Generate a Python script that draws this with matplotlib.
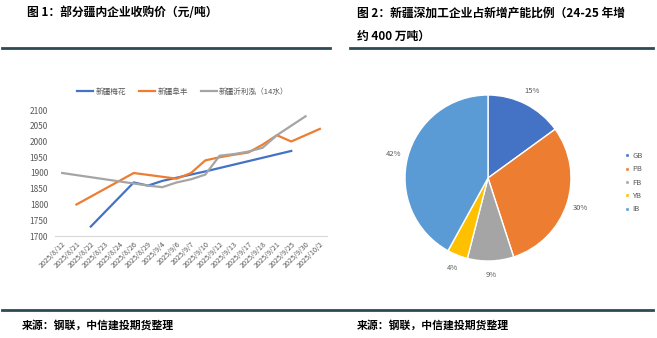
import matplotlib
matplotlib.use('Agg')
from matplotlib import pyplot as plt
import numpy as np

plt.rcParams['font.family'] = ['Noto Sans CJK SC', 'DejaVu Sans']

# chart 1: purchase prices (yuan/ton)
dates = ['2025/8/12', '2025/8/21', '2025/8/22', '2025/8/23', '2025/8/24',
         '2025/8/26', '2025/8/29', '2025/9/4', '2025/9/6', '2025/9/7',
         '2025/9/10', '2025/9/12', '2025/9/13', '2025/9/17', '2025/9/18',
         '2025/9/21', '2025/9/25', '2025/9/30', '2025/10/2']
nan = np.nan
meihua = [nan, nan, 1730, nan, nan, 1870, 1860, 1875, 1885, 1895,
          1905, nan, nan, nan, nan, nan, 1970, nan, nan]
fufeng = [nan, 1800, nan, nan, nan, 1900, nan, nan, 1882, 1900,
          1940, 1950, 1958, 1965, 1990, 2020, 2000, 2020, 2040]
yilihong = [1900, nan, nan, nan, nan, nan, 1860, 1855, 1870, 1880,
            1895, 1955, 1960, 1968, 1980, 2020, nan, 2080, nan]
series_names = ['新疆梅花', '新疆阜丰', '新疆沂利泓（14水）']
yticks = [1700, 1750, 1800, 1850, 1900, 1950, 2000, 2050, 2100]

# chart 2: share of new capacity
pie_labels = ['GB', 'PB', 'FB', 'YB', 'IB']
pie_values = [15, 30, 9, 4, 42]

line_colors = ['#4472C4', '#ED7D31', '#A5A5A5']
pie_colors = ['#4472C4', '#ED7D31', '#A5A5A5', '#FFC000', '#5B9BD5']
rule_color = '#2E4A55'
txt_gray = '#595959'

fig = plt.figure(figsize=(6.57, 3.38), dpi=100)

# titles and rules
fig.text(27/657, 1-13/338, '图 1：部分疆内企业收购价（元/吨）', fontsize=8.5,
         fontweight='bold', va='center', ha='left')
fig.text(357/657, 1-13/338, '图 2：新疆深加工企业占新增产能比例（24-25 年增',
         fontsize=8.5, fontweight='bold', va='center', ha='left')
fig.text(357/657, 1-36/338, '约 400 万吨）', fontsize=8.5,
         fontweight='bold', va='center', ha='left')
fig.add_artist(plt.Line2D([2/657, 330/657], [1-48/338]*2, color=rule_color, lw=2))
fig.add_artist(plt.Line2D([350/657, 653/657], [1-48/338]*2, color=rule_color, lw=2))
fig.add_artist(plt.Line2D([2/657, 653/657], [1-310/338]*2, color=rule_color, lw=2))
fig.text(22/657, 1-325/338, '来源：钢联，中信建投期货整理', fontsize=7.8,
         fontweight='bold', fontstyle='italic', va='center', ha='left')
fig.text(357/657, 1-325/338, '来源：钢联，中信建投期货整理', fontsize=7.8,
         fontweight='bold', fontstyle='italic', va='center', ha='left')

# line chart
ax = fig.add_axes([55/657, 1-236/338, 272/657, 126/338])
x = np.arange(len(dates))
for vals, name, c in zip([meihua, fufeng, yilihong], series_names, line_colors):
    v = np.array(vals, dtype=float)
    m = ~np.isnan(v)
    ax.plot(x[m], v[m], color=c, lw=1.6, label=name)
ax.set_xlim(-0.5, len(dates) - 0.5)
ax.set_ylim(1700, 2100)
ax.set_yticks(yticks)
ax.set_xticks(x)
ax.set_xticklabels(dates, rotation=45, ha='right', rotation_mode='anchor')
ax.tick_params(axis='y', length=0, labelsize=6, labelcolor=txt_gray, pad=5)
ax.tick_params(axis='x', length=0, labelsize=5.2, labelcolor=txt_gray, pad=3)
for s in ['top', 'right', 'left']:
    ax.spines[s].set_visible(False)
ax.spines['bottom'].set_color('#D9D9D9')
ax.spines['bottom'].set_linewidth(0.8)
leg = ax.legend(loc='center', bbox_to_anchor=(0.47, 1 + 18/126), ncol=3,
                frameon=False, fontsize=5.5, handlelength=2.1,
                columnspacing=1.7, handletextpad=0.3)
for t in leg.get_texts():
    t.set_color(txt_gray)

# pie chart
pax = fig.add_axes([405/657, 1-261/338, 166/657, 166/338])
wedges, texts, autotexts = pax.pie(
    pie_values, colors=pie_colors, startangle=90, counterclock=False,
    autopct='%d%%', pctdistance=1.17, radius=1,
    wedgeprops=dict(edgecolor='white', linewidth=1.0))
for t in autotexts:
    t.set_fontsize(5.5)
    t.set_color(txt_gray)
pax.set_xlim(-1, 1)
pax.set_ylim(-1, 1)
pax.set_aspect('equal')
pax.axis('off')

lg = fig.legend(wedges, pie_labels, loc='upper left',
                bbox_to_anchor=(618/657, 1-145/338), frameon=False,
                fontsize=5.5, handlelength=0.5, handleheight=0.5,
                handletextpad=0.5, labelspacing=0.7)
for h in lg.legend_handles:
    h.set_width(3)
    h.set_height(3)
for t in lg.get_texts():
    t.set_color(txt_gray)

fig.savefig('out.png', dpi=100)
